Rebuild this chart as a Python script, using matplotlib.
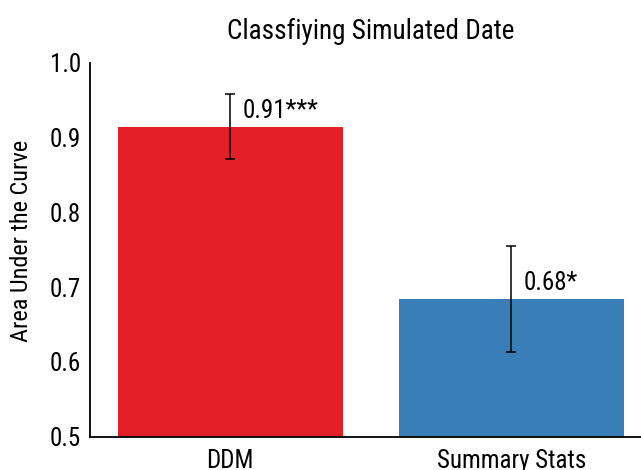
import matplotlib
matplotlib.use("Agg")
import matplotlib.pyplot as plt

categories = ["DDM", "Summary Stats"]
values = [0.914, 0.684]
err_low = [0.871, 0.613]
err_high = [0.958, 0.755]
labels = ["0.91***", "0.68*"]
colors = ["#E31F26", "#3A7EB8"]
yticks = [0.5, 0.6, 0.7, 0.8, 0.9, 1.0]

plt.rcParams['font.family'] = ['Roboto Condensed', 'DejaVu Sans']

fig = plt.figure(figsize=(6.41, 4.70), dpi=100)
ax = fig.add_axes([89.5/641, 1 - 436.6/470, 562.5/641, (436.6 - 62.7)/470])

x = list(range(len(categories)))
ax.bar(x, values, width=0.8, color=colors, zorder=1)
yerr = [[v - lo for v, lo in zip(values, err_low)], [hi - v for v, hi in zip(values, err_high)]]
ax.errorbar(x, values, yerr=yerr, fmt='none', ecolor='black', elinewidth=1.1,
            capsize=3.6, capthick=1.1, zorder=3)
for xi, v, lab in zip(x, values, labels):
    ax.text(xi + 0.043, v + 0.0115, lab, ha='left', va='baseline', fontsize=18, color='black')

ax.set_ylim(0.5, 1.0)
ax.set_xlim(-0.5, 1.5)
ax.set_yticks(yticks)
ax.set_yticklabels([f"{t:.1f}" for t in yticks])
ax.set_xticks(x)
ax.set_xticklabels(categories)
ax.tick_params(axis='both', length=0, labelsize=18)
ax.tick_params(axis='y', pad=6)
ax.tick_params(axis='x', pad=9)
for s in ['top', 'right']:
    ax.spines[s].set_visible(False)
for s in ['left', 'bottom']:
    ax.spines[s].set_linewidth(1.3)
ax.set_ylabel("Area Under the Curve", fontsize=17.5)
ax.yaxis.set_label_coords(-0.0999, 0.523)
ax.set_title("Classfiying Simulated Date", fontsize=19.5, pad=17)

fig.savefig("out.png", dpi=100)
